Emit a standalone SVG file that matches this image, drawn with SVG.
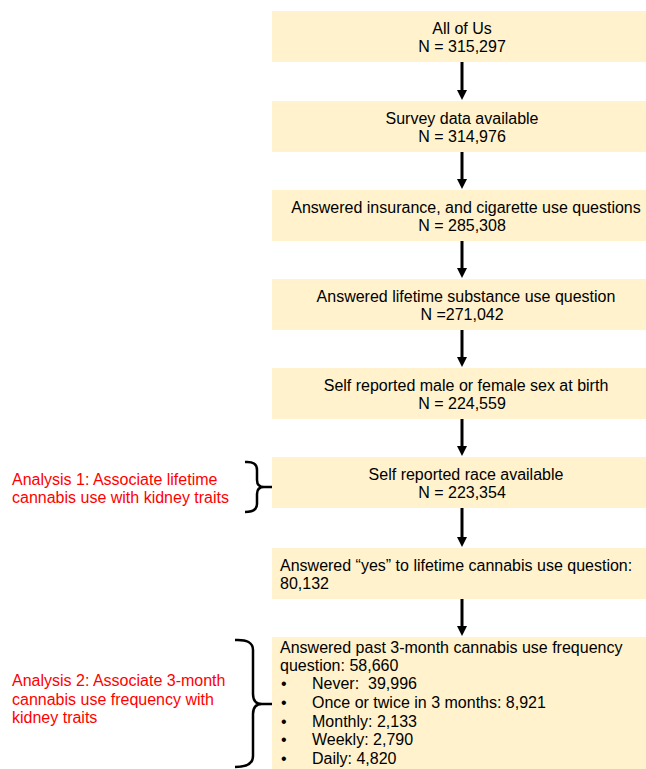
<svg xmlns="http://www.w3.org/2000/svg" width="646" height="769" viewBox="0 0 646 769">
<style>
.box{fill:#fff2cc;stroke:none}
.t{font-family:"Liberation Sans",Arial,sans-serif;font-size:16px;fill:#000;white-space:pre}
.c{text-anchor:middle}
.r{font-family:"Liberation Sans",Arial,sans-serif;font-size:16px;fill:#ff0000}
.conn line{stroke:#000;stroke-width:3}
.br{fill:none;stroke:#000;stroke-width:2.5}
</style>
<defs>
<marker id="ah" markerWidth="10" markerHeight="10" refX="2" refY="5" orient="auto" markerUnits="userSpaceOnUse">
<path d="M0,0 L10,5 L0,10 Z" fill="#000"/>
</marker>
</defs>
<rect width="646" height="769" fill="#fff"/>
<g id="n1"><rect class="box" x="272" y="11" width="374" height="51"/>
<text class="t c" x="462" y="34">All of Us</text><text class="t c" x="462" y="52">N = 315,297</text></g>
<g id="n2"><rect class="box" x="272" y="101" width="374" height="51"/>
<text class="t c" x="462" y="124">Survey data available</text><text class="t c" x="462" y="142">N = 314,976</text></g>
<g id="n3"><rect class="box" x="272" y="190" width="374" height="51"/>
<text class="t c" x="466" y="213">Answered insurance, and cigarette use questions</text><text class="t c" x="462" y="231">N = 285,308</text></g>
<g id="n4"><rect class="box" x="272" y="279" width="374" height="51"/>
<text class="t c" x="466" y="302">Answered lifetime substance use question</text><text class="t c" x="462" y="320">N =271,042</text></g>
<g id="n5"><rect class="box" x="272" y="368" width="374" height="51"/>
<text class="t c" x="466" y="391">Self reported male or female sex at birth</text><text class="t c" x="462" y="409">N = 224,559</text></g>
<g id="n6"><rect class="box" x="272" y="457" width="374" height="51"/>
<text class="t c" x="466" y="480">Self reported race available</text><text class="t c" x="462" y="498">N = 223,354</text></g>
<g id="n7"><rect class="box" x="272" y="548" width="374" height="51"/>
<text class="t" x="280" y="571">Answered “yes” to lifetime cannabis use question:</text><text class="t" x="280" y="589">80,132</text></g>
<g id="n8"><rect class="box" x="272" y="637" width="374" height="132"/>
<text class="t" x="280" y="653">Answered past 3-month cannabis use frequency</text>
<text class="t" x="280" y="671">question: 58,660</text>
<text class="t" x="281" y="689">•</text><text class="t" x="312" y="689">Never:  39,996</text>
<text class="t" x="281" y="708">•</text><text class="t" x="312" y="708">Once or twice in 3 months: 8,921</text>
<text class="t" x="281" y="727">•</text><text class="t" x="312" y="727">Monthly: 2,133</text>
<text class="t" x="281" y="745">•</text><text class="t" x="312" y="745">Weekly: 2,790</text>
<text class="t" x="281" y="764">•</text><text class="t" x="312" y="764">Daily: 4,820</text></g>
<g id="a1"><text class="r" x="12" y="485">Analysis 1: Associate lifetime</text><text class="r" x="12" y="503">cannabis use with kidney traits</text></g>
<g id="a2"><text class="r" x="12" y="686">Analysis 2: Associate 3-month</text><text class="r" x="12" y="705">cannabis use frequency with</text><text class="r" x="12" y="723">kidney traits</text></g>
<g id="brackets">
<path class="br" d="M245,462 Q257,461 257,470 L257,480 Q257,487 264,487 L272,487 M264,487 Q257,487 257,494 L257,504 Q257,512 245,512"/>
<path class="br" d="M235,640 Q253,639 253,650 L253,694 Q253,704 262,704 L272,704 M262,704 Q253,704 253,714 L253,756 Q253,767 235,767"/>
</g>
<g class="conn">
<line x1="462" y1="62" x2="462" y2="92" marker-end="url(#ah)"/>
<line x1="462" y1="152" x2="462" y2="181" marker-end="url(#ah)"/>
<line x1="462" y1="241" x2="462" y2="270" marker-end="url(#ah)"/>
<line x1="462" y1="330" x2="462" y2="359" marker-end="url(#ah)"/>
<line x1="462" y1="419" x2="462" y2="448" marker-end="url(#ah)"/>
<line x1="462" y1="508" x2="462" y2="539" marker-end="url(#ah)"/>
<line x1="462" y1="599" x2="462" y2="628" marker-end="url(#ah)"/>
</g>
</svg>
